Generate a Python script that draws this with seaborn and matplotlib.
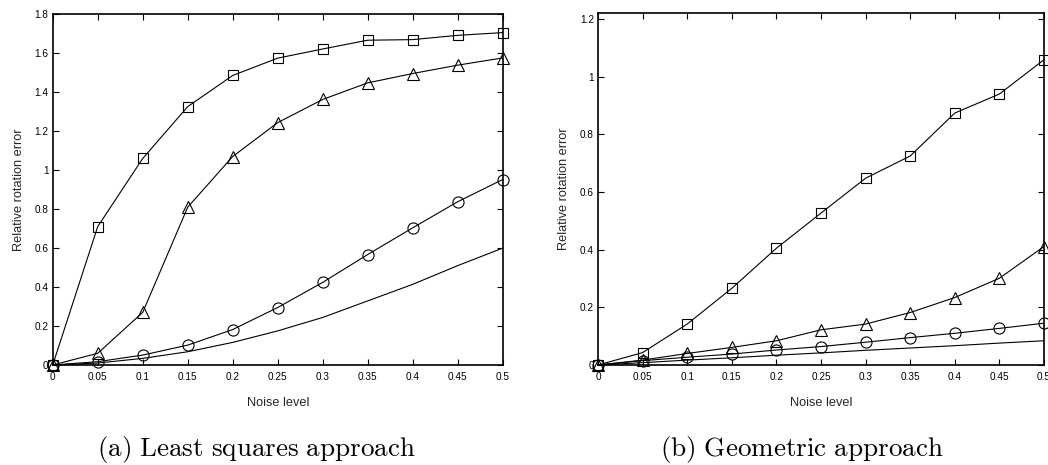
import matplotlib
matplotlib.use("Agg")
import matplotlib.pyplot as plt
import seaborn as sns
import pandas as pd

# Noise levels on the x axis
noise = [0, 0.05, 0.1, 0.15, 0.2, 0.25, 0.3, 0.35, 0.4, 0.45, 0.5]

# (a) Least squares approach
ls_square = [0, 0.71, 1.06, 1.326, 1.486, 1.575, 1.622, 1.667, 1.67, 1.692, 1.706]
ls_triangle = [0, 0.06, 0.27, 0.81, 1.07, 1.244, 1.363, 1.448, 1.496, 1.539, 1.576]
ls_circle = [0, 0.017, 0.051, 0.102, 0.182, 0.295, 0.424, 0.567, 0.704, 0.838, 0.952]
ls_plain = [0, 0.01, 0.034, 0.068, 0.116, 0.175, 0.244, 0.329, 0.414, 0.51, 0.6]

# (b) Geometric approach
geo_square = [0, 0.043, 0.142, 0.266, 0.405, 0.527, 0.648, 0.725, 0.874, 0.94, 1.059]
geo_triangle = [0, 0.017, 0.04, 0.061, 0.084, 0.122, 0.142, 0.182, 0.234, 0.301, 0.411]
geo_circle = [0, 0.015, 0.027, 0.038, 0.052, 0.064, 0.079, 0.095, 0.11, 0.127, 0.145]
geo_plain = [0, 0.008, 0.017, 0.025, 0.034, 0.042, 0.051, 0.059, 0.067, 0.076, 0.084]

x_ticks = [0, 0.05, 0.1, 0.15, 0.2, 0.25, 0.3, 0.35, 0.4, 0.45, 0.5]
x_ticklabels = ["0", "0.05", "0.1", "0.15", "0.2", "0.25", "0.3", "0.35", "0.4", "0.45", "0.5"]
ls_yticks = [0, 0.2, 0.4, 0.6, 0.8, 1.0, 1.2, 1.4, 1.6, 1.8]
ls_yticklabels = ["0", "0.2", "0.4", "0.6", "0.8", "1", "1.2", "1.4", "1.6", "1.8"]
geo_yticks = [0, 0.2, 0.4, 0.6, 0.8, 1.0, 1.2]
geo_yticklabels = ["0", "0.2", "0.4", "0.6", "0.8", "1", "1.2"]

captions = ["(a)\\ Least\\ squares\\ approach", "(b)\\ Geometric\\ approach"]

sns.set_theme(style="white")
plt.rcParams["font.family"] = ["Liberation Sans", "DejaVu Sans"]
plt.rcParams["mathtext.fontset"] = "cm"

fig = plt.figure(figsize=(10.48, 4.65), dpi=100)
ax_a = fig.add_axes([52.7 / 1048, 100 / 465, 450 / 1048, 350.7 / 465])
ax_b = fig.add_axes([598 / 1048, 100 / 465, 446 / 1048, 351.7 / 465])

marker_specs = [("s", 7), ("^", 8.5), ("o", 8), (None, 0)]


def draw_panel(ax, series, ymax, yticks, yticklabels):
    for values, (mk, ms) in zip(series, marker_specs):
        df = pd.DataFrame({"noise": noise, "err": values})
        kw = dict(marker=mk, markersize=ms, markerfacecolor="none",
                  markeredgecolor="black", markeredgewidth=0.8) if mk else {}
        sns.lineplot(data=df, x="noise", y="err", ax=ax, color="black",
                     linewidth=0.8, clip_on=False, **kw)
    ax.set_xlim(0, 0.5)
    ax.set_ylim(0, ymax)
    ax.set_xticks(x_ticks)
    ax.set_xticklabels(x_ticklabels)
    ax.set_yticks(yticks)
    ax.set_yticklabels(yticklabels)
    ax.tick_params(direction="in", length=4, width=0.8, labelsize=7.2,
                   colors="black", top=True, right=True, bottom=True, left=True,
                   pad=3)
    ax.tick_params(axis="x", pad=5)
    for sp in ax.spines.values():
        sp.set_visible(True)
        sp.set_color("black")
        sp.set_linewidth(1.2)
    ax.set_xlabel("Noise level", fontsize=9.2, labelpad=11)
    ax.set_ylabel("Relative rotation error", fontsize=9.2, labelpad=7)
    ax.grid(False)
    ax.set_facecolor("white")


draw_panel(ax_a, [ls_square, ls_triangle, ls_circle, ls_plain], 1.8,
           ls_yticks, ls_yticklabels)
draw_panel(ax_b, [geo_square, geo_triangle, geo_circle, geo_plain], 1.22,
           geo_yticks, geo_yticklabels)

fig.text(256.5 / 1048, 9 / 465, "$\\mathrm{" + captions[0] + "}$",
         ha="center", va="baseline", fontsize=19.5, color="black")
fig.text(802 / 1048, 9 / 465, "$\\mathrm{" + captions[1] + "}$",
         ha="center", va="baseline", fontsize=19.5, color="black")

fig.savefig("out.png", dpi=100, facecolor="white")
